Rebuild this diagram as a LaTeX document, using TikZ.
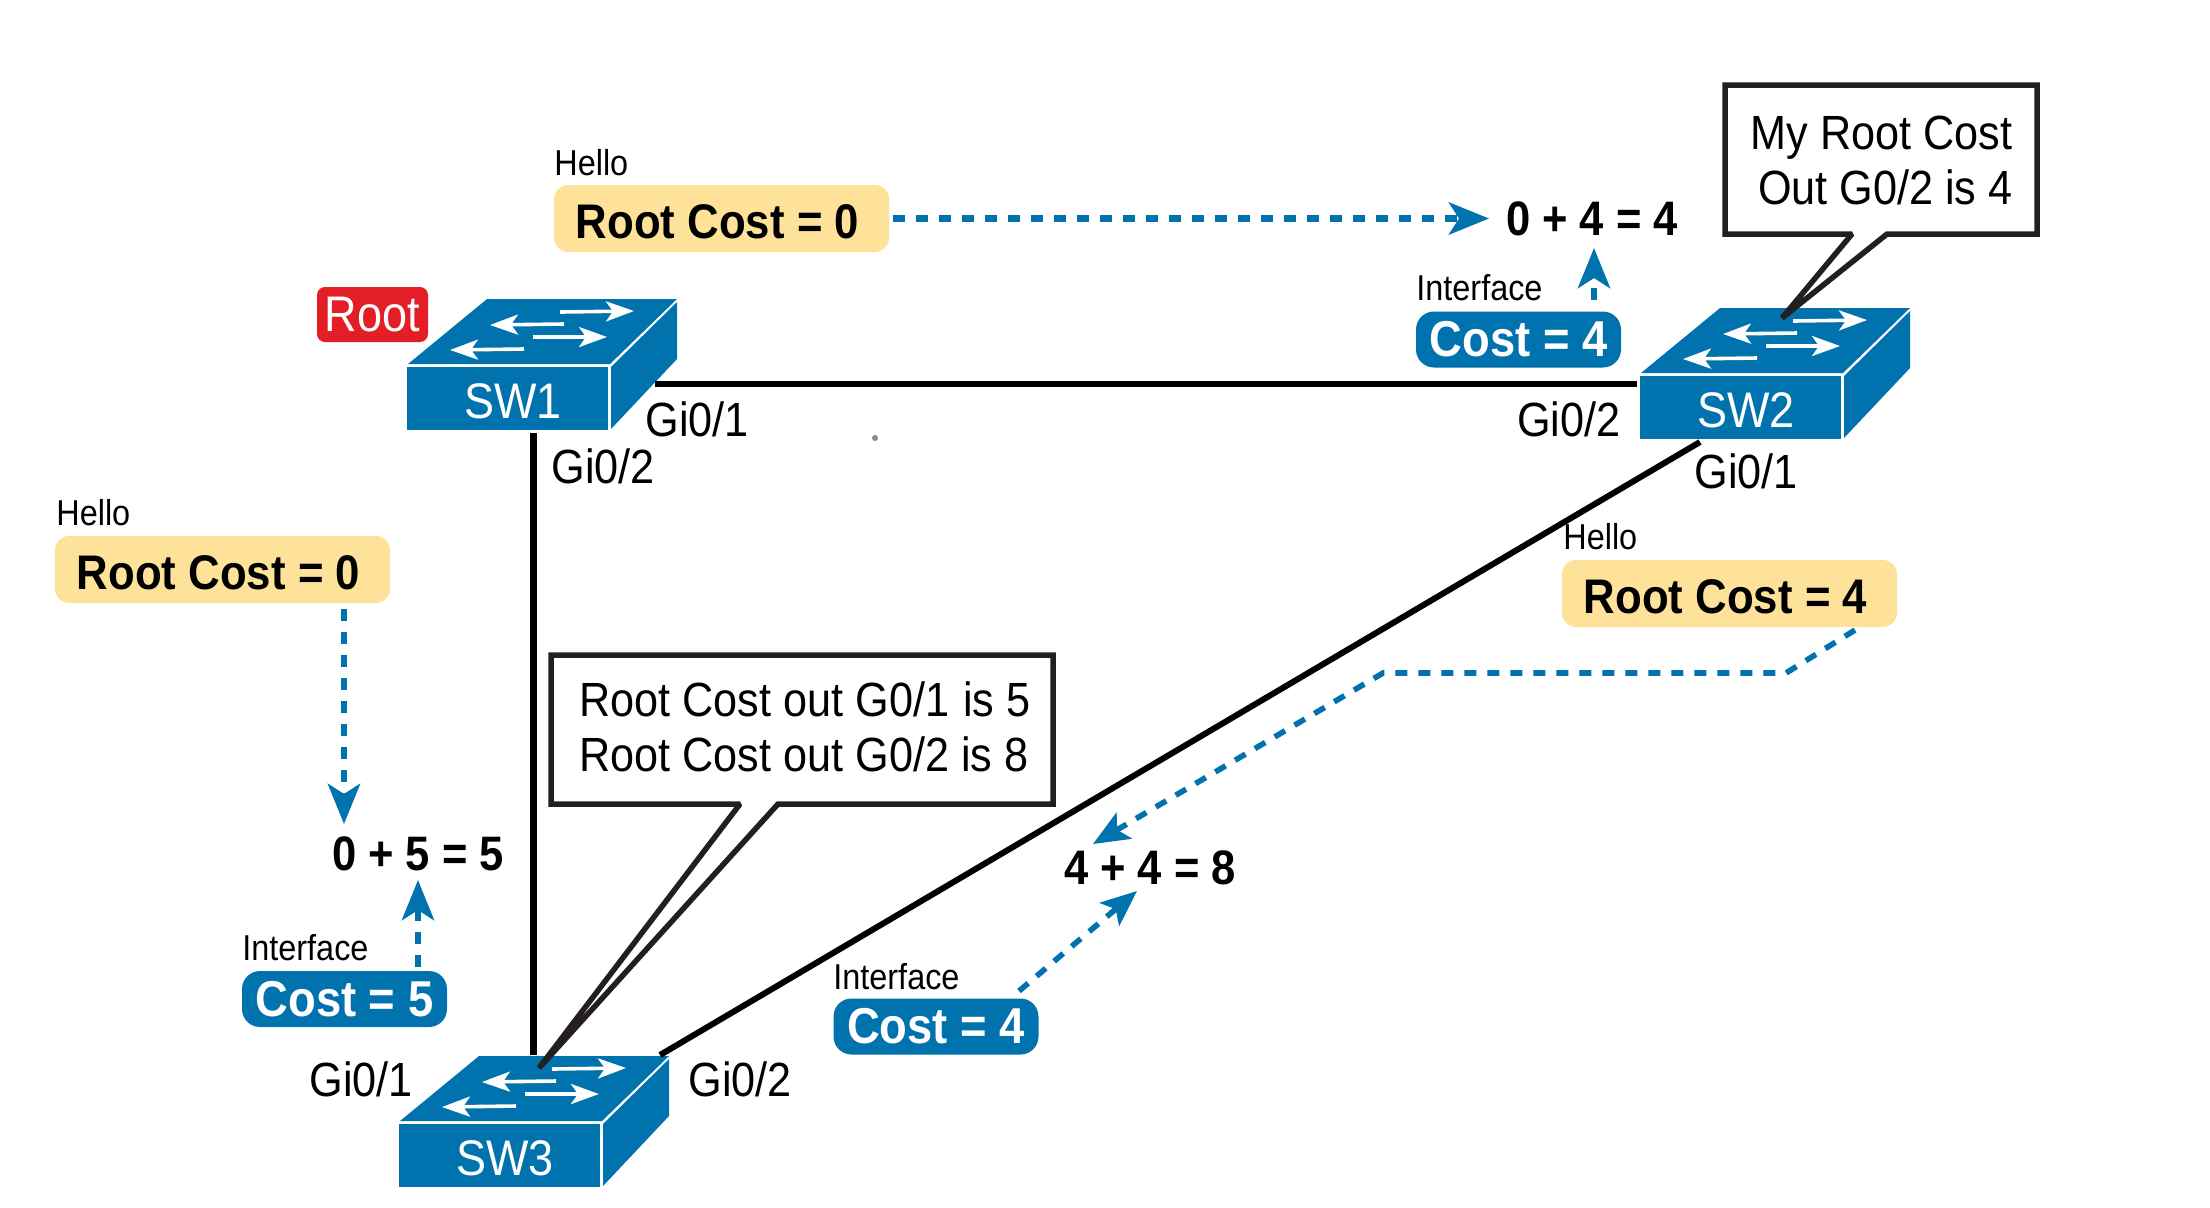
\documentclass[tikz,border=0pt]{standalone}
\usepackage{fontspec}
\setmainfont[FakeStretch=0.9]{Liberation Sans}
\usetikzlibrary{arrows.meta,calc}
\definecolor{swblue}{HTML}{0072AE}
\definecolor{softyellow}{HTML}{FFE29A}
\definecolor{rootred}{HTML}{E31E26}
\definecolor{inkgray}{HTML}{231F20}
\tikzset{
  swtext/.style={text=white,inner sep=0pt,font=\fontsize{25}{29}\selectfont},
  swarr/.style={-{Stealth[length=14pt,width=10pt,inset=3.5pt]},draw=white,line width=1.8pt},
  ybox/.style={fill=softyellow,rounded corners=7pt,minimum width=167.5pt,minimum height=33.5pt,
               inner sep=0pt,text height=20.4pt,text depth=0pt,font=\fontsize{24.3}{28}\selectfont\bfseries},
  cbox/.style={fill=swblue,text=white,rounded corners=9pt,minimum width=102.5pt,minimum height=28pt,
               inner sep=0pt,font=\fontsize{25.2}{29}\selectfont\bfseries},
  lbl/.style={inner sep=0pt,font=\fontsize{24}{28}\selectfont},
  tiny/.style={inner sep=0pt,anchor=west,font=\fontsize{18}{21}\selectfont},
  sum/.style={inner sep=0pt,font=\fontsize{24.2}{28}\selectfont\bfseries},
  link/.style={draw=black,line width=3.25pt},
  darr/.style={-{Stealth[length=20pt,width=16pt,inset=5pt]},draw=swblue,line width=3.3pt,
               dash pattern=on 6pt off 5.5pt},
  tarr/.style={-{Stealth[length=18pt,width=15pt,inset=4pt]},draw=swblue,line width=2.8pt,
               dash pattern=on 6pt off 5.5pt},
  callout/.style={draw=inkgray,fill=white,line width=2.75pt,miter limit=2}
}
\begin{document}
\begin{tikzpicture}[x=0.5pt,y=-0.5pt]
  \useasboundingbox (0,0) rectangle (2210,1207);
  \def\swbox#1#2#3#4{
    \begin{scope}[shift={(#2,#3)}]
      \fill[swblue] (0,0) rectangle (201,63);
      \fill[swblue] (1,-3) -- (80,-68) -- (270,-68) -- (203,-3) -- cycle;
      \fill[swblue] (204,0) -- (270,-65) -- (270,-8) -- (204,62) -- cycle;
      \foreach \ax/\ay/\bx/\by in {153/-55/227/-56,157/-43/83/-42,126/-30/200/-30,117/-18/43/-17}
        \draw[swarr] (\ax,\ay) -- (\bx,\by);
      \node[swtext] (#1) at (106,34) {#4};
    \end{scope}}
  \swbox{sw1}{407}{367}{SW1}
  \swbox{sw2}{1640}{376}{SW2}
  \swbox{sw3}{399}{1124}{SW3}
  % ports
  \coordinate (sw1e) at (655,384);
  \coordinate (sw1s) at (533,433);
  \coordinate (sw2w) at (1637,384);
  \coordinate (sw2s) at (1700,442);
  \coordinate (sw3n) at (533,1055);
  \coordinate (sw3e) at (660,1055);
  \draw[link] (sw1e) -- (sw2w);
  \draw[link,line width=3.5pt] (sw1s) -- (sw3n);
  \draw[link,line width=3pt] (sw2s) -- (sw3e);
  \node[lbl,anchor=west] (p1a) at (645,419) {Gi0/1};
  \node[lbl,anchor=west] (p1b) at (551,466) {Gi0/2};
  \node[lbl,anchor=east] (p2b) at (1621,419) {Gi0/2};
  \node[lbl,anchor=west] (p2a) at (1694,471) {Gi0/1};
  \node[lbl,anchor=west] (p3a) at (309,1079) {Gi0/1};
  \node[lbl,anchor=west] (p3b) at (688,1079) {Gi0/2};
  \node[fill=rootred,text=white,rounded corners=4pt,minimum width=55.5pt,minimum height=27.5pt,
        inner sep=0pt,font=\fontsize{25}{29}\selectfont] (root) at (372.5,314.5) {Root};
  \fill[black!45] (875,438) circle (3);
  % hellos
  \node[tiny] (h1) at (554,163) {Hello};
  \node[ybox] (y1) at (721.5,218.5) {Root Cost = 0\kern4pt};
  \node[tiny] (h2) at (56,513) {Hello};
  \node[ybox] (y2) at (222.5,569.5) {Root Cost = 0\kern4pt};
  \node[tiny] (h3) at (1563,537) {Hello};
  \node[ybox] (y3) at (1729.5,593.5) {Root Cost = 4\kern4pt};
  % costs
  \node[tiny] (i1) at (1416,288) {Interface};
  \node[cbox] (c1) at (1518.5,339.5) {Cost = 4};
  \node[tiny] (i2) at (242,948) {Interface};
  \node[cbox] (c2) at (344.5,999) {Cost = 5};
  \node[tiny] (i3) at (833,977) {Interface};
  \node[cbox] (c3) at (936,1026.5) {Cost = 4};
  % sums
  \node[sum] (s1) at (1592,219) {0 + 4 = 4};
  \node[sum] (s2) at (418,854) {0 + 5 = 5};
  \node[sum] (s3) at (1150,868) {4 + 4 = 8};
  % flows
  \coordinate (a1) at (893,218.5);
  \coordinate (a2) at (1489,218.5);
  \coordinate (b1) at (1594,300);
  \coordinate (b2) at (1594,248);
  \coordinate (d1) at (344,609);
  \coordinate (d2) at (344,824);
  \coordinate (e1) at (418,967);
  \coordinate (e2) at (418,880);
  \coordinate (f1) at (1855,630);
  \coordinate (f2) at (1786,673);
  \coordinate (f3) at (1383,673);
  \coordinate (f4) at (1093,844);
  \coordinate (g1) at (1019,991);
  \coordinate (g2) at (1137,891);
  \draw[darr] (a1) -- (a2);
  \draw[darr] (b1) -- (b2);
  \draw[darr] (d1) -- (d2);
  \draw[darr] (e1) -- (e2);
  \draw[tarr] (f1) -- (f2) -- (f3) -- (f4);
  \draw[tarr] (g1) -- (g2);
  % callouts
  \draw[callout] (1725,85) -- (2037,85) -- (2037,234) -- (1887,234) -- (1782,318) -- (1852,234) -- (1725,234) -- cycle;
  \node[lbl,anchor=east,align=right,font=\fontsize{24}{27.5}\selectfont] (note2) at (2013,160) {My Root Cost\\Out G0/2 is 4};
  \draw[callout] (551,655) -- (1053,655) -- (1053,804) -- (778,804) -- (539,1068) -- (740,804) -- (551,804) -- cycle;
  \node[lbl,anchor=west,align=left,font=\fontsize{24}{27.5}\selectfont] (note3) at (579,727) {Root Cost out G0/1 \hspace{1pt}is 5\\Root Cost out G0/2 is 8};
\end{tikzpicture}
\end{document}
